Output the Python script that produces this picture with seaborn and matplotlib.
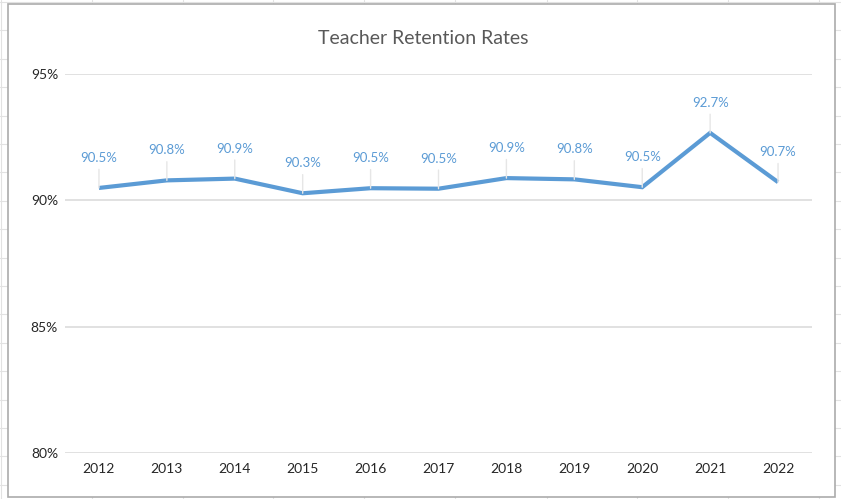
import matplotlib
matplotlib.use("Agg")
import matplotlib.pyplot as plt
from matplotlib.patches import Rectangle
from matplotlib.lines import Line2D
from matplotlib.ticker import FuncFormatter
import seaborn as sns
import pandas as pd

years = ["2012", "2013", "2014", "2015", "2016", "2017", "2018", "2019", "2020", "2021", "2022"]
retention = [90.49, 90.79, 90.86, 90.28, 90.48, 90.46, 90.88, 90.83, 90.52, 92.67, 90.72]
y_ticks = [80, 85, 90, 95]
title = "Teacher Retention Rates"

W, H = 841, 499
sns.set_theme(style="white")
plt.rcParams["font.family"] = ["Lato", "DejaVu Sans"]

fig = plt.figure(figsize=(W / 100, H / 100), dpi=100)
fig.patch.set_facecolor("white")

# spreadsheet grid behind the chart
grid_c = "#E2E2E2"
for xc in [1, 92, 183, 273, 364, 455, 547, 637, 728, 819]:
    fig.add_artist(Line2D([xc / W, xc / W], [0, 1], color=grid_c, lw=0.8, zorder=0))
yr = 2.0
while yr < H:
    fig.add_artist(Line2D([0, 1], [1 - yr / H, 1 - yr / H], color=grid_c, lw=0.8, zorder=0))
    yr += 28.4

# chart area
fig.add_artist(Rectangle((8 / W, 1 - 497 / H), (835 - 8) / W, (497 - 4) / H,
                         facecolor="white", edgecolor="#ABABAB", lw=1.2, zorder=1))

ax = fig.add_axes([65 / W, 1 - 453 / H, (812 - 65) / W, (453 - 74) / H])
ax.set_zorder(2)
ax.patch.set_alpha(0)

df = pd.DataFrame({"year": years, "rate": retention})
line_c = "#5B9BD5"
sns.lineplot(data=df, x="year", y="rate", ax=ax, color=line_c, lw=3.0,
             sort=False, solid_joinstyle="miter", solid_capstyle="butt")

ax.set_xlim(-0.5, len(years) - 0.5)
ax.set_ylim(min(y_ticks), max(y_ticks))
ax.set_yticks(y_ticks)
ax.yaxis.set_major_formatter(FuncFormatter(lambda v, p: f"{v:.0f}%"))
ax.grid(axis="y", color="#D9D9D9", lw=1.1)
ax.grid(axis="x", visible=False)
for s in ax.spines.values():
    s.set_visible(False)
ax.tick_params(axis="both", length=0, labelsize=10, labelcolor="#262626")
ax.tick_params(axis="y", pad=5)
ax.tick_params(axis="x", pad=7)
ax.set_xlabel("")
ax.set_ylabel("")

off_pt = 30 * 72 / 100
for i, v in enumerate(retention):
    ax.annotate(f"{v:.1f}%", xy=(i, v), xytext=(0, off_pt), textcoords="offset points",
                ha="center", va="center", fontsize=9.5, color=line_c,
                arrowprops=dict(arrowstyle="-", color="#E6E6E6", lw=1.0,
                                relpos=(0.5, 0.0), shrinkA=1.5, shrinkB=0))

fig.text(423 / W, 1 - 39 / H, title, ha="center", va="center",
         fontsize=14, color="#595959")

fig.savefig("out.png", dpi=100, facecolor=fig.get_facecolor())
